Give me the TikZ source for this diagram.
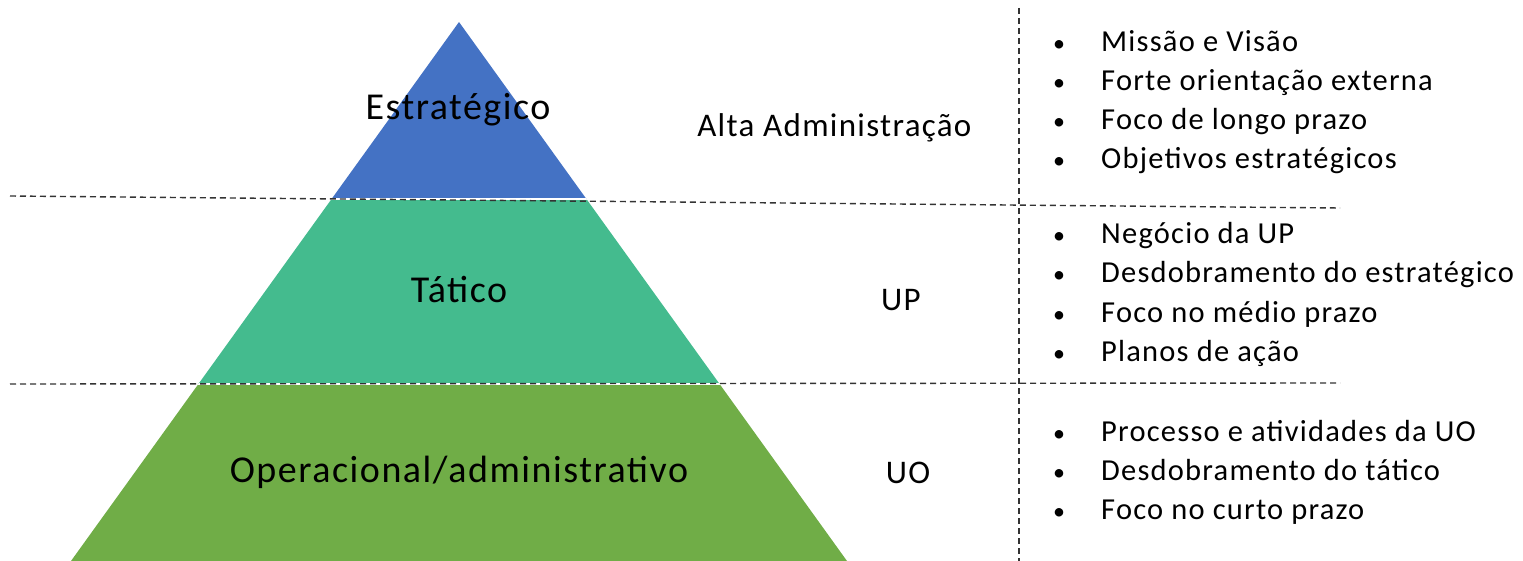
\documentclass[tikz,border=0pt]{standalone}
\usepackage{fontspec}
\setmainfont{Carlito}[LetterSpace=4]
\usetikzlibrary{calc,positioning}

\definecolor{estrblue}{RGB}{68,114,196}
\definecolor{tatgreen}{RGB}{68,187,142}
\definecolor{opergreen}{RGB}{112,173,71}

\tikzset{
  tier/.style={anchor=base,font=\fontsize{38}{42}\selectfont},
  level/.style={anchor=base,font=\fontsize{33}{38}\selectfont},
  item/.style={anchor=base west,inner sep=0pt,font=\fontsize{30.5}{36}\selectfont},
  sep/.style={draw=black!80,line width=1.4pt,dash pattern=on 6pt off 4pt}
}
\newcommand{\itembullet}{\makebox[49pt][l]{\hspace{1pt}{\fontsize{24}{24}\selectfont\textbullet}}}

\begin{document}
\begin{tikzpicture}[x=1pt,y=-1pt,inner sep=0.4mm]
\useasboundingbox (0,0) rectangle (1523,561);

\coordinate (apex) at (459,22);
\coordinate (bl) at (71,561);
\coordinate (br) at (847,561);

% piramide
\begin{scope}
\clip (apex) -- (br) -- (bl) -- cycle;
\fill[estrblue] (0,0) rectangle (1000,199.5);
\fill[tatgreen] (0,199.5) rectangle (1000,383.5);
\fill[opergreen] (0,383.5) rectangle (1000,561);
\draw[white,line width=2pt] (0,199.5) -- (1000,199.5);
\draw[white,line width=2pt] (0,383.5) -- (1000,383.5);
\end{scope}

% linhas tracejadas
\draw[sep] (10,196) -- (1340,208);
\draw[sep] (10,384) -- (1340,383);
\draw[sep] (1019,8) -- (1019,561);

\node (estr) [tier] at (458,120) {Estratégico};
\node (tat) [tier] at (459,302) {Tático};
\node (oper) [tier] at (459,482) {Operacional/administrativo};

\node (alta) [level,anchor=base west] at (696,137) {Alta Administração};
\node (up) [level] at (901,310) {UP};
\node (uo) [level] at (908,483) {UO};

\node (e1) [item] at (1052,52) {\itembullet Missão e Visão};
\node (e2) [item] at (1052,91) {\itembullet Forte orientação externa};
\node (e3) [item] at (1052,130) {\itembullet Foco de longo prazo};
\node (e4) [item] at (1052,169) {\itembullet Objetivos estratégicos};

\node (t1) [item] at (1052,244) {\itembullet Negócio da UP};
\node (t2) [item] at (1052,283) {\itembullet Desdobramento do estratégico};
\node (t3) [item] at (1052,322) {\itembullet Foco no médio prazo};
\node (t4) [item] at (1052,361) {\itembullet Planos de ação};

\node (o1) [item] at (1052,441) {\itembullet Processo e atividades da UO};
\node (o2) [item] at (1052,480) {\itembullet Desdobramento do tático};
\node (o3) [item] at (1052,519) {\itembullet Foco no curto prazo};
\end{tikzpicture}
\end{document}
